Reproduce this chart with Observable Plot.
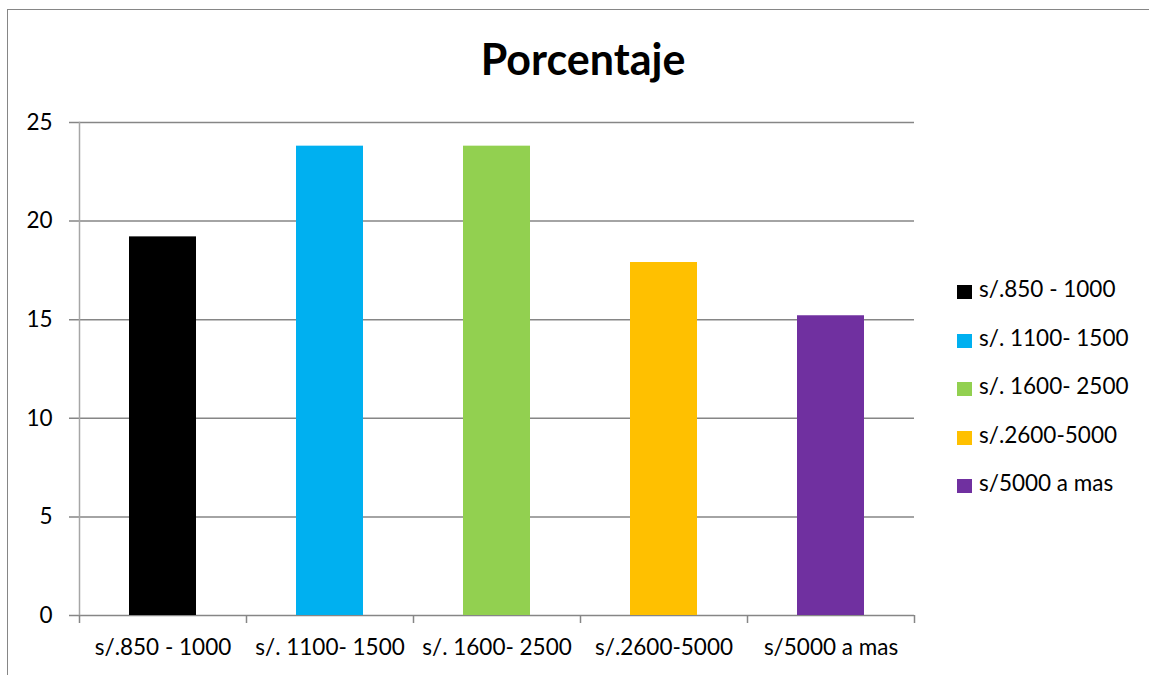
<!DOCTYPE html>
<html>
<head>
<meta charset="utf-8">
<script src="https://cdn.jsdelivr.net/npm/d3@7"></script>
<script src="https://cdn.jsdelivr.net/npm/@observablehq/plot@0.6"></script>
<style>
  html, body { margin: 0; padding: 0; background: #fff; }
  body { width: 1149px; height: 675px; overflow: hidden; position: relative; font-family: Lato, "Open Sans", sans-serif; }
  #frame { position: absolute; left: 7px; top: 9px; width: 1160px; height: 700px; border: 1px solid #868686; box-sizing: border-box; }
  #title { position: absolute; left: 0; width: 1166px; top: 33px; text-align: center; font-size: 43px; font-weight: bold; color: #000; line-height: normal; }
  #chart { position: absolute; left: 0; top: 0; }
  #legend { position: absolute; left: 957px; top: 278px; font-size: 22.5px; color: #000; }
  .item { height: 48.5px; display: flex; align-items: flex-start; line-height: 1; }
  .sw { width: 15px; height: 14px; margin-right: 7px; margin-top: 7px; }
</style>
</head>
<body>
<div id="frame"></div>
<div id="chart"></div>
<div id="title">Porcentaje</div>
<div id="legend"></div>
<script>
const categories = ["s/.850 - 1000", "s/. 1100- 1500", "s/. 1600- 2500", "s/.2600-5000", "s/5000 a mas"];
const values = [19.2, 23.8, 23.8, 17.9, 15.2];
const colors = ["#000000", "#00B0F0", "#92D050", "#FFC000", "#7030A0"];
const yTicks = [0, 5, 10, 15, 20, 25];

const data = categories.map((c, i) => ({category: c, value: values[i], color: colors[i]}));

const W = 1149, H = 675, mL = 79, mR = 235, mT = 122, mB = 60;
const step = (W - mL - mR) / categories.length;

const plot = Plot.plot({
  width: W,
  height: H,
  marginLeft: mL,
  marginRight: mR,
  marginTop: mT,
  marginBottom: mB,
  style: {fontFamily: "Lato, 'Open Sans', sans-serif", fontSize: "22.5px", color: "#000", background: "transparent", overflow: "visible"},
  x: {domain: categories, paddingInner: 0.6, paddingOuter: 0.3, label: null},
  y: {domain: [0, 25], label: null},
  marks: [
    Plot.ruleY(yTicks, {stroke: "#868686", strokeWidth: 1.5, insetLeft: -10}),
    Plot.frame({anchor: "left", stroke: "#a6a6a6", strokeWidth: 1.5}),
    Plot.barY(data, {x: "category", y: "value", fill: "color"}),
    Plot.ruleX(categories, {x: d => d, y1: 0, y2: 0, insetBottom: -8, dx: -step / 2, stroke: "#868686", strokeWidth: 1.5}),
    Plot.ruleX([categories[categories.length - 1]], {x: d => d, y1: 0, y2: 0, insetBottom: -8, dx: step / 2, stroke: "#868686", strokeWidth: 1.5}),
    Plot.axisY({ticks: yTicks, tickSize: 0, tickPadding: 27, fontSize: 22.5, fill: "#000"}),
    Plot.axisX({tickSize: 0, tickPadding: 24, fontSize: 22.5, fill: "#000"})
  ]
});
document.getElementById("chart").appendChild(plot);

const legend = document.getElementById("legend");
categories.forEach((c, i) => {
  const row = document.createElement("div");
  row.className = "item";
  const sw = document.createElement("div");
  sw.className = "sw";
  sw.style.background = colors[i];
  const t = document.createElement("span");
  t.textContent = c;
  row.appendChild(sw);
  row.appendChild(t);
  legend.appendChild(row);
});
</script>
</body>
</html>
